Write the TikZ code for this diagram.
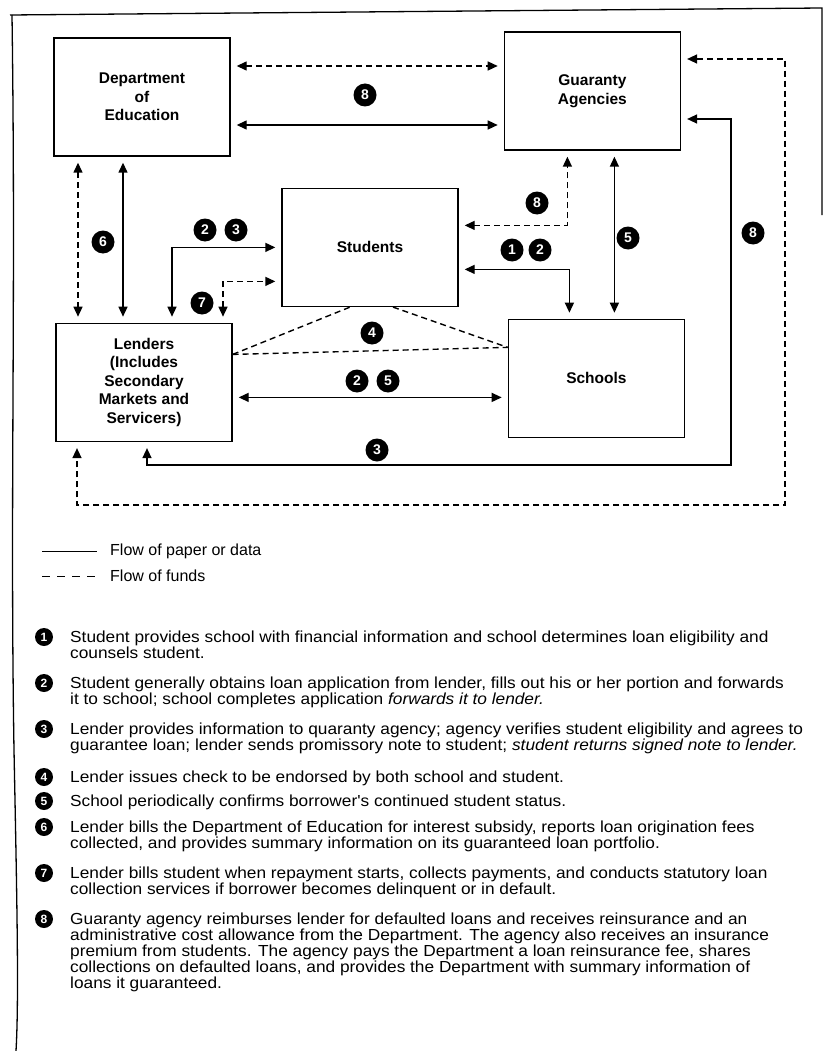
\documentclass[tikz,border=0pt]{standalone}
\usepackage{fontspec}
\setmainfont{Liberation Sans}
\newfontfamily\notefont[FakeStretch=1.08]{Liberation Sans}
\usepackage{tikz}
\usepackage{xcolor}
\usetikzlibrary{positioning}
\usetikzlibrary{calc}
\usetikzlibrary{arrows.meta}
\tikzstyle{agent} = [
	draw=black,
	line width=1.4pt,
	minimum width=176pt,
	minimum height=118pt,
	inner sep=0pt,
	align=center,
	font=\fontsize{15.5}{18.5}\selectfont\bfseries
]
\tikzstyle{flow} = [
	line width=1.4pt,
	shorten >=6pt,
	shorten <=6pt,
	<->
]
\tikzstyle{paper} = [
	flow
]
\tikzstyle{fund} = [
	flow,
	dash pattern=on 6pt off 4pt
]
\tikzstyle{endorse} = [
	line width=1.4pt,
	dash pattern=on 6pt off 4pt
]
\tikzstyle{tag} = [
	circle,
	fill=black,
	text=white,
	inner sep=0pt,
	minimum size=23pt,
	font=\fontsize{14}{14}\selectfont\bfseries
]
\tikzstyle{ltag} = [
	tag,
	minimum size=18pt,
	font=\fontsize{12}{12}\selectfont\bfseries
]
\tikzstyle{note} = [
	anchor=north west,
	inner sep=0pt,
	align=left,
	font=\notefont\fontsize{16}{16}\selectfont
]
\tikzstyle{key} = [
	anchor=west,
	inner sep=0pt,
	font=\fontsize{16}{16}\selectfont
]

\begin{document}
\begin{tikzpicture}[x=1pt, y=-1pt, >={Triangle[length=10pt,width=9pt]}]
	\useasboundingbox (0,0) rectangle (825,1051);

	% Frame
	\draw[line width=1.3pt] (10,15) -- (822,8) -- (822,215);
	\draw[line width=1.3pt] (12,15) .. controls (16,300) and (10,500) .. (14,750) .. controls (17,900) and (19,1000) .. (16,1051);

	% Boxes
	\node[agent] (dept) at (142,97) {Department\\of\\Education};
	\node[agent, right=273pt of dept, yshift=6pt] (guar) {Guaranty\\Agencies};
	\node[agent, below=31pt of dept, xshift=228pt] (stud) {Students};
	\node[agent, below=166pt of dept, xshift=2pt] (lend) {Lenders\\(Includes\\Secondary\\Markets and\\Servicers)};
	\node[agent, right=275pt of lend, yshift=4pt] (schl) {Schools};

	% Department and agencies
	\draw[fund] ([yshift=31pt]dept.east) -- ([yshift=31pt]dept.east -| guar.west);
	\draw[paper] ([yshift=-28pt]dept.east) -- ([yshift=-28pt]dept.east -| guar.west);
	\node[tag] (t8a) at (365,95) {8};

	% Department and lenders
	\draw[fund] ([xshift=-64pt]dept.south) -- ([xshift=-64pt]dept.south |- lend.north);
	\draw[paper] ([xshift=-19pt]dept.south) -- ([xshift=-19pt]dept.south |- lend.north);
	\node[tag] (t6) at (103,242) {6};

	% Lenders and students
	\draw[paper] ([xshift=28pt]lend.north) |- (stud.west);
	\draw[fund] ([xshift=79pt]lend.north) |- ([yshift=-34pt]stud.west);
	\node[tag] (t2a) at (205,230) {2};
	\node[tag] (t3a) at (236,230) {3};
	\node[tag] (t7) at (202,303) {7};

	% Students, agencies and schools
	\draw[fund] ([yshift=22pt]stud.east) -| ([xshift=-25pt]guar.south);
	\node[tag] (t8b) at (537,203) {8};
	\draw[paper] ([yshift=-22pt]stud.east) -| ([xshift=-27pt]schl.north);
	\node[tag] (t1) at (512,250) {1};
	\node[tag] (t2b) at (540,250) {2};
	\draw[paper] ([xshift=22pt]guar.south) -- ([xshift=22pt]guar.south |- schl.north);
	\node[tag] (t5a) at (628,238) {5};

	% Lenders and schools
	\draw[paper] ([yshift=-15pt]lend.east) -- ([yshift=-15pt]lend.east -| schl.west);
	\node[tag] (t2c) at (357,381) {2};
	\node[tag] (t5b) at (388,381) {5};

	% Check
	\coordinate (chk) at ([yshift=28pt]lend.east);
	\draw[endorse] (chk) -- ([xshift=-20pt]stud.south);
	\draw[endorse] ([xshift=23pt]stud.south) -- ([yshift=31pt]schl.west);
	\draw[endorse] (chk) -- ([yshift=31pt]schl.west);
	\node[tag] (t4) at (372,333) {4};

	% Agencies back to lenders
	\coordinate (c3) at (731,465);
	\draw[paper] ([yshift=-28pt]guar.east) -| (c3) -| ([xshift=3pt]lend.south);
	\node[tag] (t3b) at (377,450) {3};
	\coordinate (c8) at (785,505);
	\draw[fund] ([yshift=32pt]guar.east) -| (c8) -| ([xshift=-67pt]lend.south);
	\node[tag] (t8c) at (753,233) {8};

	% Key
	\node[key] (kpaper) at (110,551) {Flow of paper or data};
	\node[key] (kfund) at (110,576) {Flow of funds};
	\draw[line width=1pt] ([xshift=-68pt]kpaper.west) -- ([xshift=-13pt]kpaper.west);
	\draw[line width=1pt, dash pattern=on 8pt off 7pt] ([xshift=-68pt]kfund.west) -- ([xshift=-13pt]kfund.west);

	% Notes
	\node[ltag] (n1) at (44,637) {1};
	\node[note] (d1) at (70,631) {Student provides school with financial information and school determines loan eligibility and\\counsels student.};
	\node[ltag] (n2) at (44,683) {2};
	\node[note] (d2) at (70,677) {Student generally obtains loan application from lender, fills out his or her portion and forwards\\it to school; school completes application \textit{forwards it to lender.}};
	\node[ltag] (n3) at (44,729) {3};
	\node[note] (d3) at (70,723) {Lender provides information to quaranty agency; agency verifies student eligibility and agrees to\\guarantee loan; lender sends promissory note to student; \textit{student returns signed note to lender.}};
	\node[ltag] (n4) at (44,777) {4};
	\node[note] (d4) at (70,771) {Lender issues check to be endorsed by both school and student.};
	\node[ltag] (n5) at (44,801) {5};
	\node[note] (d5) at (70,795) {School periodically confirms borrower's continued student status.};
	\node[ltag] (n6) at (44,827) {6};
	\node[note] (d6) at (70,821) {Lender bills the Department of Education for interest subsidy, reports loan origination fees\\collected, and provides summary information on its guaranteed loan portfolio.};
	\node[ltag] (n7) at (44,873) {7};
	\node[note] (d7) at (70,867) {Lender bills student when repayment starts, collects payments, and conducts statutory loan\\collection services if borrower becomes delinquent or in default.};
	\node[ltag] (n8) at (44,919) {8};
	\node[note] (d8) at (70,913) {Guaranty agency reimburses lender for defaulted loans and receives reinsurance and an\\administrative cost allowance from the Department. The agency also receives an insurance\\premium from students. The agency pays the Department a loan reinsurance fee, shares\\collections on defaulted loans, and provides the Department with summary information of\\loans it guaranteed.};

\end{tikzpicture}
\end{document}
